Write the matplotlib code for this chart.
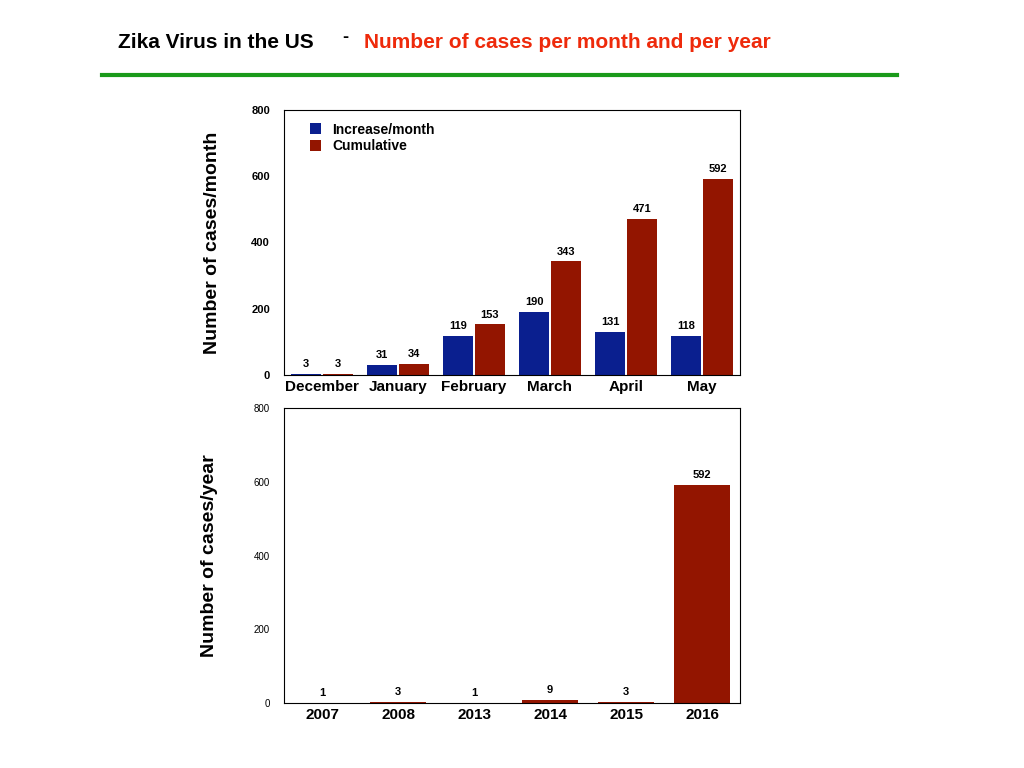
import matplotlib
matplotlib.use("Agg")
import matplotlib.pyplot as plt
import numpy as np

plt.rcParams['font.family'] = ['Liberation Sans', 'DejaVu Sans']

months = ["December", "January", "February", "March", "April", "May"]
increase = [3, 31, 119, 190, 131, 118]
cumulative = [3, 34, 153, 343, 471, 592]
years = ["2007", "2008", "2013", "2014", "2015", "2016"]
year_cases = [1, 3, 1, 9, 3, 592]

blue = "#0a1f8f"
red = "#931500"

fig = plt.figure(figsize=(10.24, 7.68), dpi=100)
fig.text(118/1024, 1-42/768, "Zika Virus in the US", fontsize=15, fontweight="bold", va="center", ha="left")
fig.text(342/1024, 1-37/768, "-", fontsize=13, fontweight="bold", va="center", ha="left")
fig.text(364/1024, 1-42/768, "Number of cases per month and per year", fontsize=15, fontweight="bold",
         color="#ee2a0b", va="center", ha="left")
fig.add_artist(plt.Line2D([102/1024, 897/1024], [1-75/768, 1-75/768], color="#1a9a1a", lw=3))

ax1 = fig.add_axes([284/1024, 1-375/768, 456/1024, 265/768])
x = np.arange(len(months))
w = 0.39
b1 = ax1.bar(x - 0.21, increase, w, color=blue, label="Increase/month")
b2 = ax1.bar(x + 0.21, cumulative, w, color=red, label="Cumulative")
for bars, vals in ((b1, increase), (b2, cumulative)):
    for r, v in zip(bars, vals):
        ax1.text(r.get_x() + r.get_width()/2, v + 14, str(v), ha="center", va="bottom", fontsize=8, fontweight="bold")
ax1.set_xlim(-0.5, 5.5)
ax1.set_ylim(0, 800)
ax1.set_yticks([0, 200, 400, 600, 800])
ax1.set_xticks(x)
ax1.set_xticklabels(months, fontsize=11, fontweight="bold")
ax1.tick_params(axis="y", labelsize=8, length=0, pad=10)
ax1.tick_params(axis="x", length=0)
for t in ax1.get_yticklabels():
    t.set_fontweight("bold")
ax1.set_ylabel("Number of cases/month", fontsize=14, fontweight="bold", labelpad=22)
ax1.legend(loc="upper left", frameon=False, prop={"weight": "bold", "size": 10},
           handlelength=0.8, handleheight=0.8, borderaxespad=0.5, labelspacing=0.2,
           bbox_to_anchor=(0.03, 1.0))

ax2 = fig.add_axes([284/1024, 1-703/768, 456/1024, 295/768])
x2 = np.arange(len(years))
bb = ax2.bar(x2, year_cases, 0.74, color=red)
for r, v in zip(bb, year_cases):
    ax2.text(r.get_x() + r.get_width()/2, v + 12, str(v), ha="center", va="bottom", fontsize=8, fontweight="bold")
ax2.set_xlim(-0.5, 5.5)
ax2.set_ylim(0, 800)
ax2.set_yticks([0, 200, 400, 600, 800])
ax2.set_xticks(x2)
ax2.set_xticklabels(years, fontsize=11, fontweight="bold")
ax2.tick_params(axis="y", labelsize=7, length=0, pad=10)
ax2.tick_params(axis="x", length=0)
ax2.set_ylabel("Number of cases/year", fontsize=14, fontweight="bold", labelpad=26)

fig.savefig("out.png", dpi=100)
